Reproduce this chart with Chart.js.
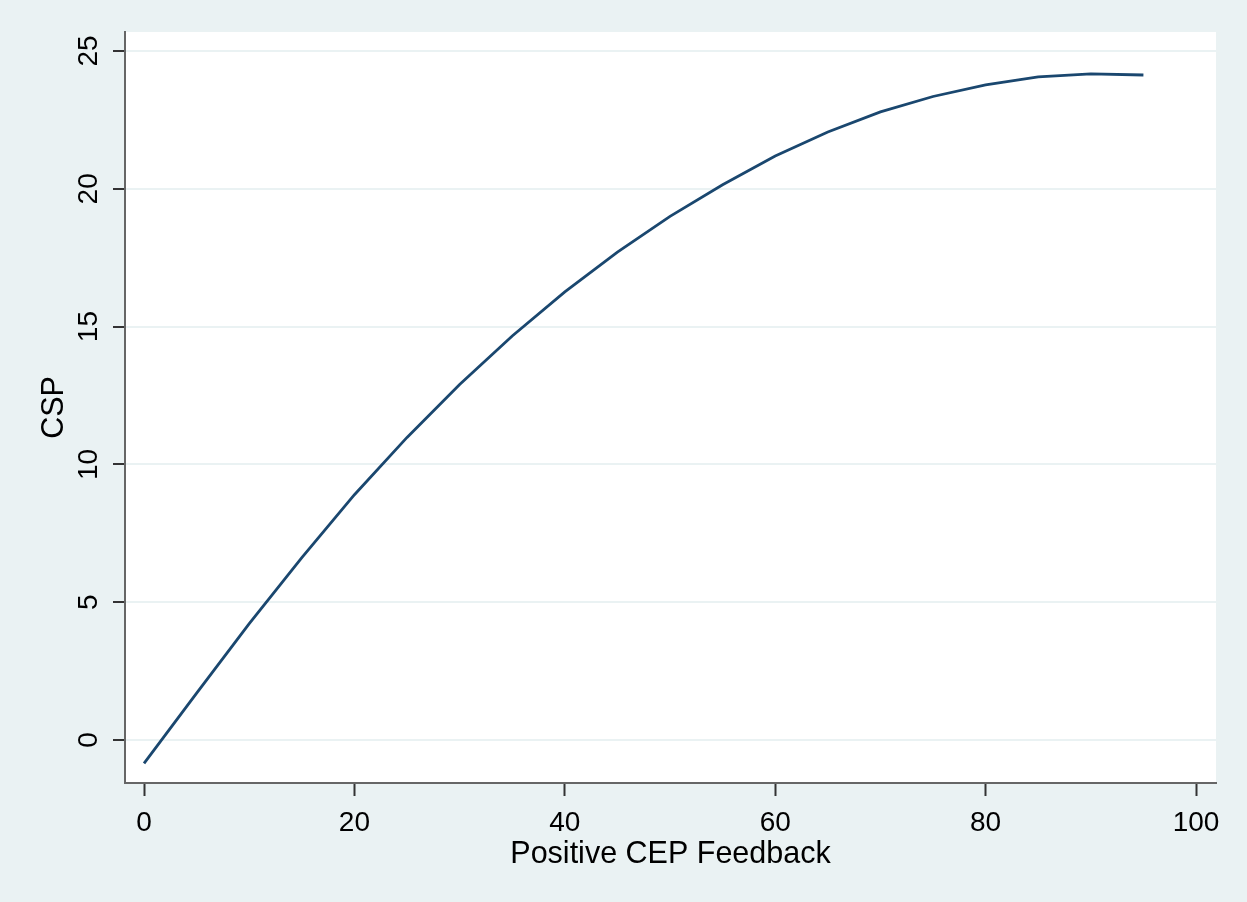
<!DOCTYPE html>
<html>
<head>
<meta charset="utf-8">
<script src="https://cdn.jsdelivr.net/npm/chart.js@4.4.0/dist/chart.umd.min.js"></script>
<style>
    html, body { margin: 0; padding: 0; background: #eaf2f3; }
    #wrap { width: 1247px; height: 902px; }
</style>
</head>
<body>
<div id="wrap"><canvas id="csp_chart" width="1247" height="902"></canvas></div>
<script>
// x values (Positive CEP Feedback) and fitted CSP
var feedback = [0, 5, 10, 15, 20, 25, 30, 35, 40, 45, 50, 55, 60, 65, 70, 75, 80, 85, 90, 95];
var csp = [-0.85, 1.7, 4.22, 6.62, 8.9, 10.98, 12.9, 14.66, 16.26, 17.7, 19.0, 20.15, 21.19, 22.06, 22.79, 23.35, 23.77, 24.06, 24.17, 24.13];

var xTicks = [0, 20, 40, 60, 80, 100];
var yTicks = [0, 5, 10, 15, 20, 25];

var points = [];
for (let i = 0; i < feedback.length; i++) {
    points.push({ x: feedback[i], y: csp[i] });
}

//  background: grey-blue page, white plot region
var bgPlugin = {
    id: 'stataBg',
    beforeDraw: function (chart) {
        var ctx = chart.ctx;
        var a = chart.chartArea;
        ctx.save();
        ctx.fillStyle = '#eaf2f3';
        ctx.fillRect(0, 0, chart.width, chart.height);
        ctx.fillStyle = '#ffffff';
        ctx.fillRect(a.left, a.top, a.right - a.left, a.bottom - a.top);
        ctx.restore();
    }
};

var tickFont = { family: 'Liberation Sans', size: 28 };
var titleFont = { family: 'Liberation Sans', size: 30.5 };

var ctx = document.getElementById('csp_chart').getContext('2d');
var chart = new Chart(ctx, {
    type: 'line',
    data: {
        datasets: [{
            data: points,
            borderColor: '#1a476f',
            borderWidth: 2.8,
            pointRadius: 0,
            tension: 0,
            fill: false
        }]
    },
    options: {
        responsive: false,
        animation: false,
        layout: { padding: { top: 32, right: 31, left: 0, bottom: 0 } },
        plugins: {
            legend: { display: false },
            tooltip: { enabled: false }
        },
        scales: {
            x: {
                type: 'linear',
                min: -1.81,
                max: 101.9,
                afterBuildTicks: function (s) { s.ticks = xTicks.map(function (v) { return { value: v }; }); },
                afterFit: function (s) { s.height = 119; },
                grid: { drawOnChartArea: false, drawTicks: true, tickLength: 13, tickColor: '#333333', tickWidth: 2 },
                border: { color: '#666666', width: 2 },
                ticks: { font: tickFont, color: '#000000', padding: 10, maxRotation: 0 },
                title: { display: true, text: 'Positive CEP Feedback', font: titleFont, color: '#000000', padding: { top: 0, bottom: 29.5 } }
            },
            y: {
                type: 'linear',
                min: -1.56,
                max: 25.69,
                afterBuildTicks: function (s) { s.ticks = yTicks.map(function (v) { return { value: v }; }); },
                afterFit: function (s) { s.width = 125; },
                grid: { color: '#eaf2f3', lineWidth: 2, drawTicks: true, tickLength: 12, tickColor: '#333333', tickWidth: 2 },
                border: { color: '#666666', width: 2 },
                ticks: { font: tickFont, color: '#000000', padding: 8, minRotation: 90, maxRotation: 90, crossAlign: 'center' },
                title: { display: true, text: 'CSP', font: titleFont, color: '#000000', padding: { top: 36, bottom: 0 } }
            }
        }
    },
    plugins: [bgPlugin]
});
</script>
</body>
</html>
